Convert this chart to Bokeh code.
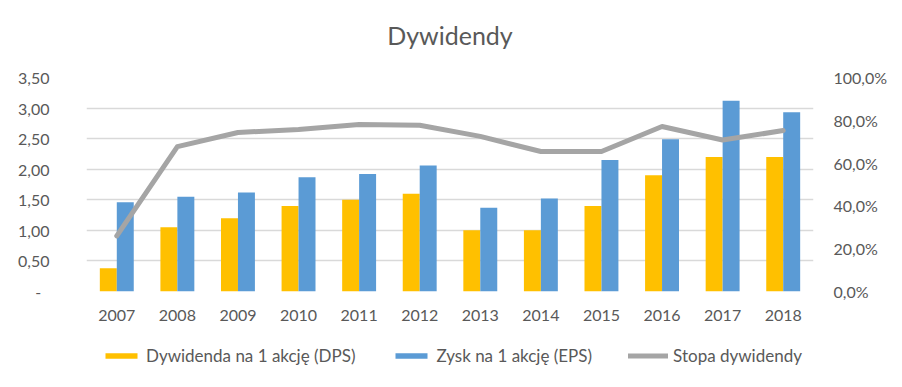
from bokeh.plotting import figure
from bokeh.models import (FactorRange, Range1d, LinearAxis, FixedTicker, Legend,
                          LegendItem, ColumnDataSource, Title)
from bokeh.layouts import column
from bokeh.transform import dodge
from bokeh.embed import file_html
from bokeh.resources import INLINE

years = ["2007", "2008", "2009", "2010", "2011", "2012",
         "2013", "2014", "2015", "2016", "2017", "2018"]
dps = [0.38, 1.05, 1.20, 1.40, 1.50, 1.60, 1.00, 1.00, 1.40, 1.90, 2.20, 2.20]
eps = [1.46, 1.55, 1.62, 1.87, 1.92, 2.06, 1.37, 1.52, 2.15, 2.49, 3.12, 2.93]
rate = [0.26, 0.677, 0.743, 0.757, 0.78, 0.777, 0.725, 0.654, 0.654, 0.771, 0.708, 0.752]

left_ticks = [0, 0.5, 1.0, 1.5, 2.0, 2.5, 3.0, 3.5]
left_labels = ["-\u00a0\u00a0", "0,50", "1,00", "1,50", "2,00", "2,50", "3,00", "3,50"]
right_ticks = [0, 0.2, 0.4, 0.6, 0.8, 1.0]
right_labels = ["0,0%", "20,0%", "40,0%", "60,0%", "80,0%", "100,0%"]

series_names = ["Dywidenda na 1 akcję (DPS)", "Zysk na 1 akcję (EPS)", "Stopa dywidendy"]
C_DPS, C_EPS, C_RATE = "#FFC000", "#5B9BD5", "#A5A5A5"

FONT = "Lato"
TXT = "#595959"

src = ColumnDataSource(dict(year=years, dps=dps, eps=eps, rate=rate))

p = figure(width=900, height=335, x_range=FactorRange(*years, range_padding=0),
           y_range=Range1d(0, 3.5), output_backend="svg", toolbar_location=None,
           min_border_left=86, min_border_right=87, min_border_top=77, min_border_bottom=44)
p.outline_line_color = None
p.background_fill_color = "white"
p.border_fill_color = "white"

# small blank spacer between the frame and the title
p.add_layout(Title(text="\u00a0", text_font_size="1px", standoff=13), "above")

p.title.text = "Dywidendy"
p.title.align = "center"
p.title.text_font = FONT
p.title.text_font_size = "25px"
p.title.text_font_style = "normal"
p.title.text_color = TXT
p.title.standoff = 24

p.extra_y_ranges = {"pct": Range1d(0, 1.0)}

p.vbar(x=dodge("year", -0.14, range=p.x_range), top="dps", width=0.28,
       source=src, color=C_DPS, line_color=None)
p.vbar(x=dodge("year", 0.14, range=p.x_range), top="eps", width=0.28,
       source=src, color=C_EPS, line_color=None)
p.line(x="year", y="rate", source=src, y_range_name="pct",
       line_color=C_RATE, line_width=5, line_join="round", line_cap="round")

# grid
p.xgrid.grid_line_color = None
p.ygrid.grid_line_color = "#D9D9D9"
p.ygrid.grid_line_width = 1.5
p.ygrid.ticker = FixedTicker(ticks=left_ticks)

# left axis
ya = p.yaxis[0]
ya.ticker = FixedTicker(ticks=left_ticks)
ya.major_label_overrides = {t: l for t, l in zip(left_ticks, left_labels)}
ya.axis_line_color = None
ya.major_tick_line_color = None
ya.minor_tick_line_color = None
ya.major_label_standoff = 31
ya.major_label_text_font = FONT
ya.major_label_text_font_size = "16px"
ya.major_label_text_color = TXT

# right axis
ra = LinearAxis(y_range_name="pct", ticker=FixedTicker(ticks=right_ticks))
ra.major_label_overrides = {t: l for t, l in zip(right_ticks, right_labels)}
ra.axis_line_color = None
ra.major_tick_line_color = None
ra.minor_tick_line_color = None
ra.major_label_standoff = 14
ra.major_label_text_font = FONT
ra.major_label_text_font_size = "16px"
ra.major_label_text_color = TXT
p.add_layout(ra, "right")

# bottom axis
xa = p.xaxis[0]
xa.axis_line_color = None
xa.major_tick_line_color = None
xa.minor_tick_line_color = None
xa.major_label_standoff = 12
xa.major_label_text_font = FONT
xa.major_label_text_font_size = "16px"
xa.major_label_text_color = TXT

# legend strip below the chart: same data drawn outside its (empty) view,
# only the legend of this strip is visible
lg = figure(width=900, height=40, x_range=FactorRange(*years), y_range=Range1d(10, 11),
            output_backend="svg", toolbar_location=None,
            x_axis_location=None, y_axis_location=None,
            min_border_left=86, min_border_right=87, min_border_top=0, min_border_bottom=0)
lg.outline_line_color = None
lg.grid.visible = False
lg.border_fill_color = "white"
lg.background_fill_color = "white"
g1 = lg.vbar(x="year", top="dps", source=src, width=0.28, color=C_DPS, line_color=None)
g2 = lg.vbar(x="year", top="eps", source=src, width=0.28, color=C_EPS, line_color=None)
g3 = lg.line(x="year", y="rate", source=src, line_color=C_RATE, line_width=5, line_cap="round")

legend = Legend(items=[
    LegendItem(label=series_names[0], renderers=[g1]),
    LegendItem(label=series_names[1], renderers=[g2]),
    LegendItem(label=series_names[2], renderers=[g3]),
], orientation="horizontal", location=(15, 9))
legend.label_text_font = FONT
legend.label_text_font_size = "17px"
legend.label_text_color = TXT
legend.glyph_width = 40
legend.glyph_height = 7
legend.label_standoff = 5
legend.spacing = 36
legend.border_line_color = None
legend.background_fill_alpha = 0
legend.margin = 0
legend.padding = 0
lg.add_layout(legend, "center")

open("out.html", "w").write(file_html(column(p, lg, spacing=0), INLINE))
